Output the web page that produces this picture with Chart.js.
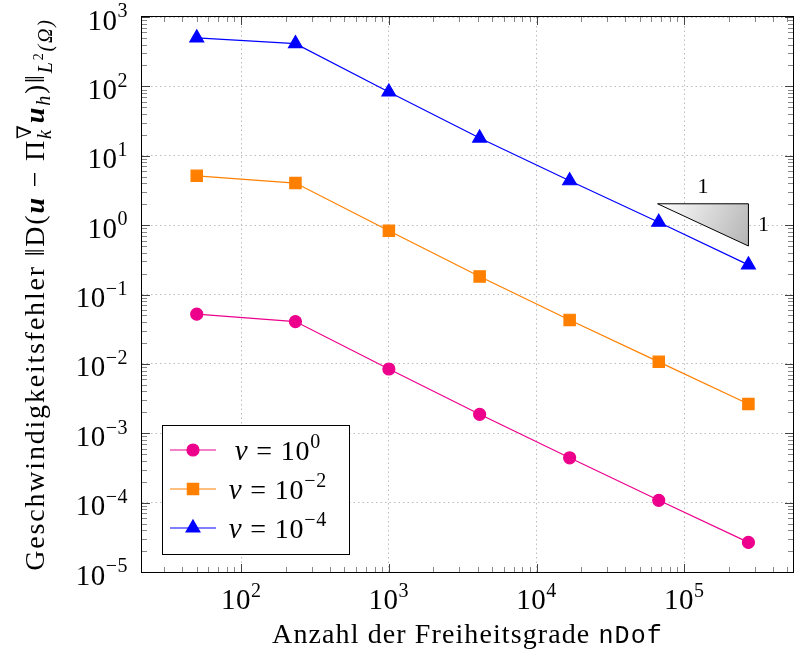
<!DOCTYPE html>
<html>
<head>
<meta charset="utf-8">
<script src="https://cdn.jsdelivr.net/npm/chart.js@4.4.0/dist/chart.umd.min.js"></script>
<style>
  body { margin: 0; background: #fff; }
  canvas { display: block; }
</style>
</head>
<body>
<canvas id="myChart" width="794" height="653"></canvas>
<script>
// number of degrees of freedom (x) and the velocity errors for each viscosity
var nDof   = [50, 233, 1000, 4117, 16750, 67200, 272000];
var errNu0 = [0.052, 0.0407, 0.00844, 0.001875, 0.000443, 0.000108, 0.0000267];
var errNu2 = [5.14, 4.04, 0.828, 0.182, 0.043, 0.0107, 0.00264];
var errNu4 = [500, 413, 83, 18.0, 4.36, 1.10, 0.267];
var legendExp = ['0', '\u22122', '\u22124'];

// tick decades
var xDecades = [2, 3, 4, 5];
var yDecades = [-5, -4, -3, -2, -1, 0, 1, 2, 3];

// slope triangle corners (data units)
var slopeX = [66000, 272000];
var slopeY = [2.03, 0.5];

var serif = "'Liberation Serif', 'DejaVu Serif', serif";
var mono = "'Liberation Mono', 'DejaVu Sans Mono', monospace";
var magenta = '#ec008c', orange = '#ff8000', blue = '#0000ff';

function pts(ys) {
  return nDof.map(function (x, i) { return { x: x, y: ys[i] }; });
}
function fnt(size, style) { return (style || '') + ' ' + size + 'px ' + serif; }

// rich text: parts {t, f, dy, keep}
function richWidth(ctx, parts) {
  var w = 0, keepW = 0;
  parts.forEach(function (p) {
    ctx.font = p.f;
    var pw = ctx.measureText(p.t).width;
    if (p.keep) { keepW = pw; return; }
    w += Math.max(pw, keepW); keepW = 0;
  });
  return w;
}
function drawRich(ctx, parts, x, y, align, spacing) {
  ctx.letterSpacing = (spacing || 0) + 'px';
  var w = richWidth(ctx, parts);
  var cx = align === 'center' ? x - w / 2 : (align === 'right' ? x - w : x);
  var keepW = 0;
  ctx.textAlign = 'left';
  ctx.textBaseline = 'alphabetic';
  parts.forEach(function (p) {
    ctx.font = p.f;
    ctx.fillText(p.t, cx, y + (p.dy || 0));
    var pw = ctx.measureText(p.t).width;
    if (p.keep) { keepW = pw; return; }
    cx += Math.max(pw, keepW); keepW = 0;
  });
  ctx.letterSpacing = '0px';
}
function powParts(exp, S) {
  return [{ t: '10', f: fnt(S) }, { t: exp, f: fnt(Math.round(S * 0.7)), dy: -S * 0.42 }];
}
function expStr(n) { return n < 0 ? '\u2212' + (-n) : String(n); }

function logTicks(min, max) {
  var out = [];
  for (var e = -6; e <= 6; e++) {
    for (var k = 1; k <= 9; k++) {
      var v = k * Math.pow(10, e);
      if (v >= min * 0.9999 && v <= max * 1.0001) out.push({ value: v, major: k === 1 });
    }
  }
  return out;
}
function isDecade(v) {
  var l = Math.log10(v);
  return Math.abs(l - Math.round(l)) < 1e-6;
}

var decorations = {
  id: 'decorations',
  afterDatasetsDraw: function (chart) {
    var ctx = chart.ctx, a = chart.chartArea;
    var xs = chart.scales.x, ys = chart.scales.y;
    ctx.save();
    // slope triangle
    var x0 = xs.getPixelForValue(slopeX[0]), x1 = xs.getPixelForValue(slopeX[1]);
    var y0 = ys.getPixelForValue(slopeY[0]), y1 = ys.getPixelForValue(slopeY[1]);
    var g = ctx.createLinearGradient(x0, y0, x1, y1);
    g.addColorStop(0, '#ffffff');
    g.addColorStop(1, '#b4b4b4');
    ctx.beginPath();
    ctx.moveTo(x0, y0); ctx.lineTo(x1, y0); ctx.lineTo(x1, y1); ctx.closePath();
    ctx.fillStyle = g; ctx.fill();
    ctx.strokeStyle = '#000'; ctx.lineWidth = 1; ctx.stroke();
    ctx.fillStyle = '#000';
    ctx.font = fnt(22);
    ctx.textAlign = 'center'; ctx.textBaseline = 'middle';
    ctx.fillText('1', (x0 + x1) / 2, y0 - 17);
    ctx.fillText('1', x1 + 15, (y0 + y1) / 2);

    // inner tick marks on all four sides
    function tick(x, y, dx, dy, col) {
      ctx.beginPath(); ctx.moveTo(x, y); ctx.lineTo(x + dx, y + dy);
      ctx.strokeStyle = col; ctx.lineWidth = 1; ctx.stroke();
    }
    logTicks(xs.min, xs.max).forEach(function (t) {
      var px = Math.round(xs.getPixelForValue(t.value)) + 0.5;
      var len = t.major ? 8 : 5, col = t.major ? '#444' : '#888';
      tick(px, a.bottom, 0, -len, col);
      tick(px, a.top, 0, len, col);
    });
    logTicks(ys.min, ys.max).forEach(function (t) {
      var py = Math.round(ys.getPixelForValue(t.value)) + 0.5;
      var len = t.major ? 8 : 5, col = t.major ? '#444' : '#888';
      tick(a.left, py, len, 0, col);
      tick(a.right, py, -len, 0, col);
    });

    // frame
    ctx.strokeStyle = '#000'; ctx.lineWidth = 1;
    ctx.strokeRect(Math.round(a.left) - 0.5, Math.round(a.top) - 0.5,
      Math.round(a.right - a.left) + 1, Math.round(a.bottom - a.top) + 1);

    // tick labels
    ctx.fillStyle = '#000';
    var S = 29;
    xDecades.forEach(function (d) {
      var px = xs.getPixelForValue(Math.pow(10, d));
      drawRich(ctx, powParts(expStr(d), S), px, 609, 'center', 0.5);
    });
    yDecades.forEach(function (d) {
      var py = ys.getPixelForValue(Math.pow(10, d));
      drawRich(ctx, powParts(expStr(d), S), 128, py + 12.5, 'right', 0.5);
    });

    // x axis title
    var xt = [{ t: 'Anzahl der Freiheitsgrade ', f: fnt(28) }, { t: 'nDof', f: '25px ' + mono }];
    drawRich(ctx, xt, (a.left + a.right) / 2, 643, 'center', 1.1);

    // y axis title (rotated)
    var T = 28, s = Math.round(T * 0.7), ss = Math.round(T * 0.5);
    var yt = [
      { t: 'Geschwindigkeitsfehler ', f: fnt(T) },
      { t: '\u2016D(', f: fnt(T) },
      { t: 'u', f: fnt(T, 'bold italic') },
      { t: ' \u2212 ', f: fnt(T) },
      { t: '\u03a0', f: fnt(T) },
      { t: '\u2207', f: fnt(s), dy: -T * 0.45, keep: true },
      { t: 'k', f: fnt(s, 'italic'), dy: T * 0.25 },
      { t: 'u', f: fnt(T, 'bold italic') },
      { t: 'h', f: fnt(s, 'italic'), dy: T * 0.2 },
      { t: ')\u2016', f: fnt(T) },
      { t: 'L', f: fnt(s, 'italic'), dy: T * 0.3 },
      { t: '2', f: fnt(ss), dy: -T * 0.05 },
      { t: '(\u03a9)', f: fnt(s, 'italic'), dy: T * 0.3 }
    ];
    ctx.translate(44, (a.top + a.bottom) / 2);
    ctx.rotate(-Math.PI / 2);
    drawRich(ctx, yt, 0, 0, 'center', 1.8);
    ctx.restore();

    // legend box
    ctx.save();
    var bx = 162, by = 425, bw = 187, bh = 129;
    ctx.fillStyle = '#fff';
    ctx.fillRect(bx, by, bw, bh);
    ctx.strokeStyle = '#000'; ctx.lineWidth = 1;
    ctx.strokeRect(bx + 0.5, by + 0.5, bw, bh);
    chart.data.datasets.forEach(function (ds, i) {
      var ry = 450 + i * 39;
      ctx.strokeStyle = ds.borderColor; ctx.lineWidth = ds.borderWidth;
      ctx.beginPath(); ctx.moveTo(170, ry); ctx.lineTo(216, ry); ctx.stroke();
      ctx.fillStyle = ds.backgroundColor;
      Chart.helpers.drawPoint(ctx, { pointStyle: ds.pointStyle, radius: ds.pointRadius, rotation: 0, borderWidth: 1 }, 193, ry);
      ctx.fillStyle = '#000';
      var parts = [{ t: '\u03bd', f: fnt(29, 'italic') }, { t: ' = 10', f: fnt(28) },
                   { t: legendExp[i], f: fnt(20), dy: -12 }];
      drawRich(ctx, parts, 278, ry + 10, 'center', 0.8);
    });
    ctx.restore();
  }
};

var ctx = document.getElementById('myChart').getContext('2d');
var myChart = new Chart(ctx, {
  type: 'scatter',
  data: {
    datasets: [{
      data: pts(errNu0),
      borderColor: magenta, backgroundColor: magenta,
      pointStyle: 'circle', pointRadius: 6, borderWidth: 1.2, showLine: true
    }, {
      data: pts(errNu2),
      borderColor: orange, backgroundColor: orange,
      pointStyle: 'rect', pointRadius: 8, borderWidth: 1.2, showLine: true
    }, {
      data: pts(errNu4),
      borderColor: blue, backgroundColor: blue,
      pointStyle: 'triangle', pointRadius: 8, borderWidth: 1.2, showLine: true
    }]
  },
  options: {
    responsive: false,
    animation: false,
    devicePixelRatio: 1,
    layout: { autoPadding: false, padding: { top: 17, right: 1, left: 0, bottom: 0 } },
    plugins: { legend: { display: false }, tooltip: { enabled: false } },
    elements: { point: { borderWidth: 1, hoverRadius: 6 } },
    scales: {
      x: {
        type: 'logarithmic', min: 21.3, max: 545000,
        afterBuildTicks: function (s) { s.ticks = logTicks(s.min, s.max); },
        afterFit: function (s) { s.height = 81; },
        ticks: { display: false },
        grid: {
          drawTicks: false,
          color: function (c) { return c.tick && isDecade(c.tick.value) ? '#bdbdbd' : 'rgba(0,0,0,0)'; }
        },
        border: { display: false, dash: [1.5, 3] }
      },
      y: {
        type: 'logarithmic', min: 1e-5, max: 1e3,
        afterBuildTicks: function (s) { s.ticks = logTicks(s.min, s.max); },
        afterFit: function (s) { s.width = 142; },
        ticks: { display: false },
        grid: {
          drawTicks: false,
          color: function (c) { return c.tick && isDecade(c.tick.value) ? '#bdbdbd' : 'rgba(0,0,0,0)'; }
        },
        border: { display: false, dash: [1.5, 3] }
      }
    }
  },
  plugins: [decorations]
});
</script>
</body>
</html>
